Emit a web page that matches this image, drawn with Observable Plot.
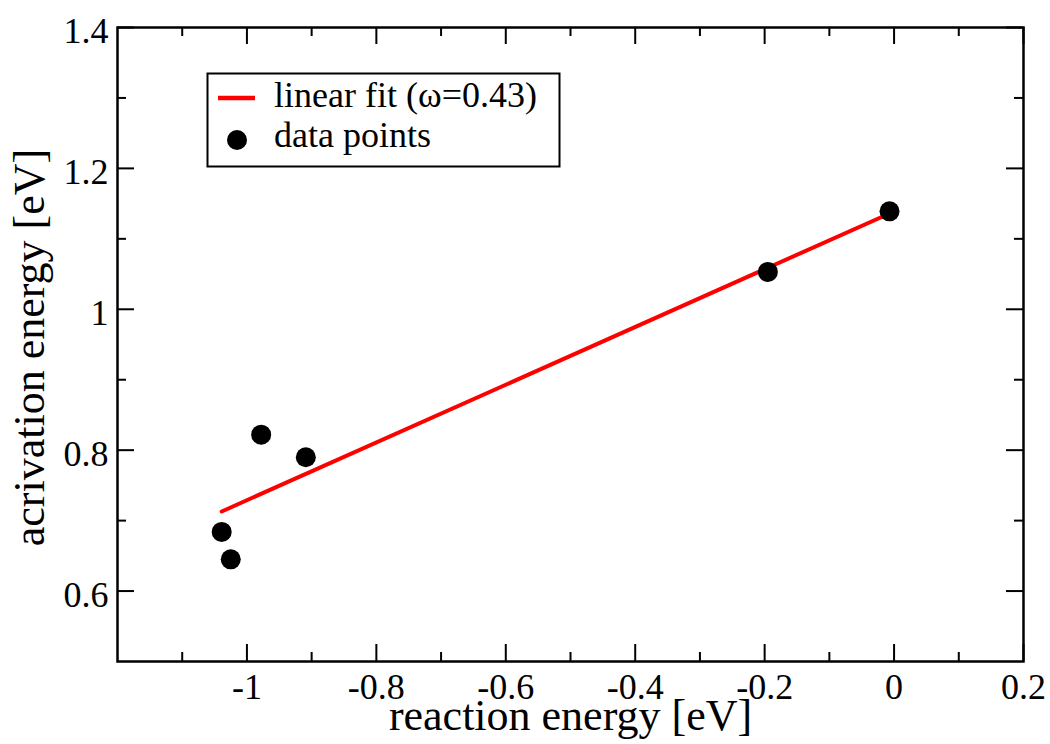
<!DOCTYPE html>
<html><head><meta charset="utf-8">
<script src="https://cdn.jsdelivr.net/npm/d3@7"></script>
<script src="https://cdn.jsdelivr.net/npm/@observablehq/plot@0.6"></script>
<style>
body{margin:0;background:#fff;}
#wrap{position:relative;width:1050px;height:744px;font-family:"Liberation Serif","Times New Roman",serif;}
#chart svg{display:block;}
#legend{position:absolute;left:206px;top:72px;}
</style></head>
<body><div id="wrap"><div id="chart"></div>
<svg id="legend" width="356" height="97" xmlns="http://www.w3.org/2000/svg"></svg>
</div>
<script>
// Data
const reactionEnergy = [-1.039, -1.025, -0.978, -0.909, -0.195, -0.007];
const activationEnergy = [0.684, 0.645, 0.822, 0.790, 1.053, 1.139];
const fitX = [-1.039, -0.007];
const fitY = [0.713, 1.136];
const xMajorTicks = [-1, -0.8, -0.6, -0.4, -0.2, 0, 0.2];
const xMinorTicks = [-1.1, -0.9, -0.7, -0.5, -0.3, -0.1, 0.1];
const xTickLabels = [-1, -0.8, -0.6, -0.4, -0.2, 0, 0.2];
const yMajorTicks = [0.6, 0.8, 1, 1.2, 1.4];
const yMinorTicks = [0.7, 0.9, 1.1, 1.3];
const yTickLabels = [0.6, 0.8, 1, 1.2, 1.4];
const xTitle = "reaction energy [eV]";
const yTitle = "acrivation energy [eV]";
const legendLabels = ["linear fit (\u03c9=0.43)", "data points"];

const points = reactionEnergy.map((x, i) => ({x, y: activationEnergy[i]}));
const fit = fitX.map((x, i) => ({x, y: fitY[i]}));

const W = 1050, H = 744, mL = 117, mR = 27, mT = 27, mB = 83;
const fw = W - mL - mR, fh = H - mT - mB;
const MAJ = 17, MIN = 9;
const font = "'Liberation Serif', 'Times New Roman', serif";

const plot = Plot.plot({
  width: W, height: H,
  marginLeft: mL, marginRight: mR, marginTop: mT, marginBottom: mB,
  style: {fontFamily: font, fontSize: "36px", background: "white", color: "black"},
  x: {domain: [-1.2, 0.2], label: null},
  y: {domain: [0.5, 1.4], label: null},
  marks: [
    // ticks, inward on all four sides
    Plot.tickX(xMajorTicks, {x: d => d, stroke: "black", strokeWidth: 2, insetTop: fh - MAJ}),
    Plot.tickX(xMajorTicks, {x: d => d, stroke: "black", strokeWidth: 2, insetBottom: fh - MAJ}),
    Plot.tickX(xMinorTicks, {x: d => d, stroke: "black", strokeWidth: 2, insetTop: fh - MIN}),
    Plot.tickX(xMinorTicks, {x: d => d, stroke: "black", strokeWidth: 2, insetBottom: fh - MIN}),
    Plot.tickY(yMajorTicks, {y: d => d, stroke: "black", strokeWidth: 2, insetRight: fw - MAJ}),
    Plot.tickY(yMajorTicks, {y: d => d, stroke: "black", strokeWidth: 2, insetLeft: fw - MAJ}),
    Plot.tickY(yMinorTicks, {y: d => d, stroke: "black", strokeWidth: 2, insetRight: fw - MIN}),
    Plot.tickY(yMinorTicks, {y: d => d, stroke: "black", strokeWidth: 2, insetLeft: fw - MIN}),
    Plot.axisX(xTickLabels, {anchor: "bottom", tickSize: 0, tickPadding: 12, tickFormat: d => String(d), fontSize: 36, fontFamily: font, label: null}),
    Plot.axisY(yTickLabels, {anchor: "left", tickSize: 0, tickPadding: 9, dy: 4, tickFormat: d => String(d), fontSize: 36, fontFamily: font, label: null}),
    Plot.line(fit, {x: "x", y: "y", stroke: "#ff0000", strokeWidth: 4}),
    Plot.dot(points, {x: "x", y: "y", r: 10, fill: "black", stroke: "none"}),
    Plot.frame({stroke: "black", strokeWidth: 2.5}),
    Plot.text([xTitle], {text: d => d, frameAnchor: "bottom", textAnchor: "middle", lineAnchor: "middle", dy: 54, fontSize: 44, fontFamily: font, fill: "black"}),
    Plot.text([yTitle], {text: d => d, frameAnchor: "left", textAnchor: "middle", lineAnchor: "middle", rotate: -90, dx: -88, dy: 3, fontSize: 44, fontFamily: font, fill: "black"})
  ]
});
document.getElementById("chart").appendChild(plot);

// Legend box
const lg = d3.select("#legend");
lg.append("rect").attr("x", 1.5).attr("y", 1.5).attr("width", 352).attr("height", 93)
  .attr("fill", "white").attr("stroke", "black").attr("stroke-width", 2);
lg.append("line").attr("x1", 12).attr("x2", 49).attr("y1", 26).attr("y2", 26)
  .attr("stroke", "#ff0000").attr("stroke-width", 4.5);
lg.append("circle").attr("cx", 31).attr("cy", 68).attr("r", 10).attr("fill", "black");
lg.selectAll("text.l").data(legendLabels).join("text")
  .attr("x", 68).attr("y", (d, i) => i === 0 ? 35 : 75)
  .style("font-family", font).attr("font-size", 36).attr("fill", "black")
  .text(d => d);
</script>
</body></html>
